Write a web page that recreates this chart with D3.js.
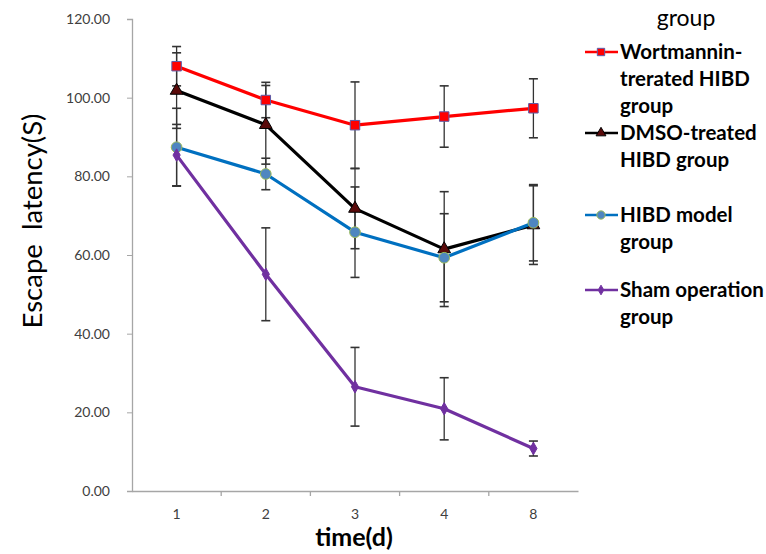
<!DOCTYPE html>
<html><head><meta charset="utf-8">
<script src="https://cdn.jsdelivr.net/npm/d3@7"></script>
<style>body{margin:0;background:#fff}svg{display:block}</style>
</head><body><svg id="c" width="766" height="554"></svg>
<script>
const days = ["1","2","3","4","8"];
const seriesNames = ["Wortmannin-treated HIBD group","DMSO-treated HIBD group","HIBD model group","Sham operation group"];
const legendLines = [["Wortmannin-","trerated HIBD","group"],["DMSO-treated","HIBD group"],["HIBD model","group"],["Sham operation","group"]];
const wortMean = [108.0, 99.4, 93.0, 95.2, 97.3];
const wortErr  = [5.0, 4.5, 11.0, 7.8, 7.5];
const dmsoMean = [101.8, 93.1, 71.8, 61.5, 67.6];
const dmsoErr  = [9.6, 10.0, 10.2, 14.6, 10.0];
const hibdMean = [87.4, 80.6, 65.8, 59.3, 68.2];
const hibdErr  = [9.9, 4.0, 11.5, 11.2, 9.7];
const shamMean = [85.4, 55.1, 26.5, 20.9, 10.8];
const shamErr  = [7.8, 11.8, 10.0, 7.9, 1.9];
const yTicks = [0,20,40,60,80,100,120];

const svg = d3.select("#c");
const x = d3.scaleBand().domain(days).range([132, 578]).padding(0);
const y = d3.scaleLinear().domain([0,120]).range([491, 19]);

const styles = [
  {line:"#ff0000", shape:d3.symbolSquare, size:90, fill:"#ff0000", stroke:"#5b5ba8"},
  {line:"#000000", shape:d3.symbolTriangle, size:70, fill:"#5a0a0a", stroke:"#000"},
  {line:"#0070c0", shape:d3.symbolCircle, size:90, fill:"#4f86c0", stroke:"#9bbb59"},
  {line:"#7030a0", shape:d3.symbolDiamond, size:45, fill:"#7030a0", stroke:"#7030a0"}
];
const means = [wortMean, dmsoMean, hibdMean, shamMean];
const errs = [wortErr, dmsoErr, hibdErr, shamErr];
const FF = "Lato, 'Open Sans', sans-serif";

// y axis
const yAxis = d3.axisLeft(y).tickValues(yTicks).tickFormat(d3.format(".2f")).tickSize(5).tickPadding(17);
const gy = svg.append("g").attr("transform","translate(132,0)").call(yAxis);
gy.select(".domain").attr("stroke","#a6a6a6").attr("stroke-width",1.3);
gy.selectAll(".tick line").attr("stroke","#a6a6a6");
gy.selectAll("text").attr("font-family",FF).attr("font-size",14).attr("fill","#404040");

// x axis
const xAxis = d3.axisBottom(x).tickSize(0).tickPadding(18);
const gx = svg.append("g").attr("transform","translate(0,491)").call(xAxis);
gx.select(".domain").attr("stroke","#a6a6a6").attr("stroke-width",1.3);
gx.selectAll("text").attr("font-family",FF).attr("font-size",14).attr("fill","#404040");
gx.selectAll(".bt").data(days.slice(1)).enter().append("line")
  .attr("x1",d=>x(d)).attr("x2",d=>x(d)).attr("y1",0).attr("y2",5)
  .attr("stroke","#a6a6a6").attr("stroke-width",1.3);

// axis titles
svg.append("text").attr("transform","translate(42,221) rotate(-90)").attr("text-anchor","middle")
  .attr("font-family",FF).attr("font-size",27.5).attr("fill","#000")
  .attr("xml:space","preserve").text("Escape  latency(S)");
svg.append("text").attr("x",354).attr("y",546).attr("text-anchor","middle")
  .attr("font-family",FF).attr("font-weight","bold").attr("font-size",25).attr("fill","#000")
  .text("time(d)");

const cx = d => x(d) + x.bandwidth()/2;
const line = d3.line().x((v,i)=>cx(days[i])).y(v=>y(v));

// error bars
means.forEach((m,s)=>{
  const g = svg.append("g");
  m.forEach((v,i)=>{
    const e = errs[s][i], X = cx(days[i]);
    g.append("line").attr("x1",X).attr("x2",X).attr("y1",y(v+e)).attr("y2",y(v-e)).attr("stroke","#333").attr("stroke-width",1.3);
    [v+e, v-e].forEach(t=>g.append("line").attr("x1",X-4.5).attr("x2",X+4.5).attr("y1",y(t)).attr("y2",y(t)).attr("stroke","#333").attr("stroke-width",1.6));
  });
});

// lines and markers
means.forEach((m,s)=>{
  const st = styles[s];
  svg.append("path").datum(m).attr("d",line).attr("fill","none").attr("stroke",st.line).attr("stroke-width",3.2).attr("stroke-linejoin","round");
  svg.selectAll(".m"+s).data(m).enter().append("path")
    .attr("transform",(v,i)=>`translate(${cx(days[i])},${y(v)})`)
    .attr("d",d3.symbol().type(st.shape).size(st.size))
    .attr("fill",st.fill).attr("stroke",st.stroke).attr("stroke-width",1);
});

// legend
const lg = svg.append("g").attr("font-family",FF);
lg.append("text").attr("x",686).attr("y",26).attr("text-anchor","middle").attr("font-size",23).text("group");
const legY = [52, 133, 215, 290];
legendLines.forEach((lines,s)=>{
  const st = styles[s], Y = legY[s];
  lg.append("line").attr("x1",585).attr("x2",618).attr("y1",Y).attr("y2",Y).attr("stroke",st.line).attr("stroke-width",2.5);
  lg.append("path").attr("transform",`translate(601,${Y})`).attr("d",d3.symbol().type(st.shape).size(st.size*0.6))
    .attr("fill",st.fill).attr("stroke",st.stroke).attr("stroke-width",1);
  lines.forEach((t,j)=>{
    lg.append("text").attr("x",620).attr("y",Y + 7 + j*27).attr("font-size",20.5).attr("font-weight","bold").attr("fill","#000").text(t);
  });
});
</script></body></html>
